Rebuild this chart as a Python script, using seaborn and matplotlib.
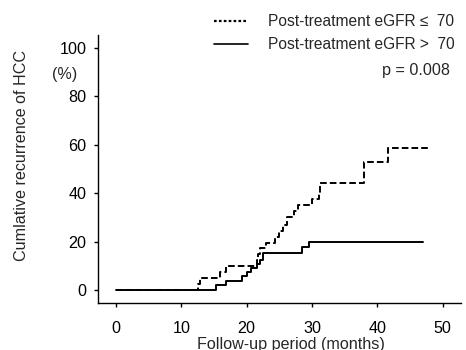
import numpy as np
import pandas as pd
import seaborn as sns
import matplotlib.pyplot as plt
from matplotlib.lines import Line2D

# cumulative recurrence (%)
low_months = [0, 12.6, 12.9, 15.9, 16.9, 21.6, 21.8, 22.1, 23.0, 24.4, 25.0, 25.6,
              26.2, 27.2, 27.9, 30.0, 31.0, 31.3, 37.9, 41.6, 48.1]
low_pct = [0, 2.5, 5.0, 7.4, 10.0, 12.5, 15.0, 17.4, 19.6, 21.9, 24.3, 26.7,
           30.0, 32.5, 35.0, 37.5, 40.0, 44.2, 53.0, 58.8, 58.8]
high_months = [0, 15.3, 16.9, 19.3, 20.0, 20.6, 21.5, 22.0, 22.5, 28.4, 29.6, 47.0]
high_pct = [0, 2.1, 3.9, 5.6, 7.4, 9.1, 10.7, 12.5, 15.2, 17.6, 20.0, 20.0]

group_labels = ["Post-treatment eGFR \u2264  70", "Post-treatment eGFR >  70"]
x_ticks = [0, 10, 20, 30, 40, 50]
y_ticks = [0, 20, 40, 60, 80, 100]

df = pd.concat([
    pd.DataFrame({"months": low_months, "pct": low_pct, "group": group_labels[0]}),
    pd.DataFrame({"months": high_months, "pct": high_pct, "group": group_labels[1]}),
])

sns.set_style("ticks")
plt.rcParams['font.family'] = ['Liberation Sans', 'DejaVu Sans']
fs = 11.6

fig = plt.figure(figsize=(4.66, 3.5), dpi=100)
ax = fig.add_axes([0.210, 0.134, 0.779, 0.766])

sns.lineplot(data=df, x="months", y="pct", hue="group", style="group",
             palette=["black", "black"], dashes={group_labels[0]: (3.4, 1.6), group_labels[1]: ""},
             estimator=None, drawstyle="steps-post", linewidth=1.4, legend=False, ax=ax)

ax.set_xlim(-2.8, 52.8)
ax.set_ylim(-5.4, 105.4)
ax.set_xticks(x_ticks)
ax.set_yticks(y_ticks)
for side in ["top", "right"]:
    ax.spines[side].set_visible(False)
for side in ["left", "bottom"]:
    ax.spines[side].set_linewidth(1.0)
    ax.spines[side].set_color("black")
ax.tick_params(axis="both", length=3, width=1.0, colors="black", labelsize=fs)
ax.tick_params(axis="y", pad=5)
ax.tick_params(axis="x", pad=10)

ax.set_xlabel("Follow-up period (months)", fontsize=fs)
ax.xaxis.set_label_coords(0.532, -0.125)
ax.set_ylabel("Cumlative recurrence of HCC", fontsize=fs)
ax.yaxis.set_label_coords(-0.19, 0.552)

ax.text(-0.091, 0.853, "(%)", transform=ax.transAxes, ha="center", va="center", fontsize=fs)
ax.text(0.970, 0.869, "p = 0.008", transform=ax.transAxes, ha="right", va="center", fontsize=fs)

handles = [Line2D([], [], color="black", linestyle=(0, (1.2, 1.0)), linewidth=1.6),
           Line2D([], [], color="black", linestyle="-", linewidth=1.2)]
ax.legend(handles, group_labels, loc="upper right", bbox_to_anchor=(1.0, 1.10),
          frameon=False, fontsize=11.2, handlelength=2.2, handletextpad=1.3,
          labelspacing=0.5, borderaxespad=0)

fig.savefig("out.png", dpi=100)
